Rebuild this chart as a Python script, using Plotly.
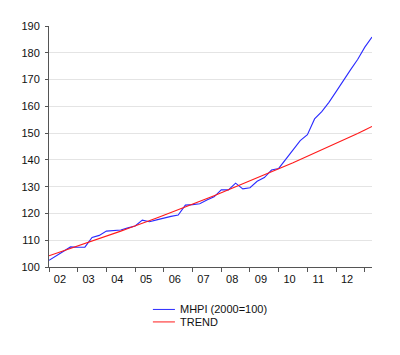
import plotly.graph_objects as go

# Quarterly observations, 2002Q1 .. 2013Q2
quarters = [2002 + i / 4 for i in range(46)]

mhpi = [102.5, 104.2, 106.0, 107.5, 107.4, 107.4, 111.0, 111.8, 113.4, 113.6,
        113.8, 114.6, 115.3, 117.5, 116.9, 117.6, 118.3, 118.9, 119.4, 123.1,
        123.3, 123.6, 125.0, 126.2, 128.8, 128.8, 131.3, 129.2, 129.6, 132.0,
        133.4, 136.2, 136.8, 140.4, 143.8, 147.2, 149.4, 155.3, 158.0, 161.5,
        165.5, 169.8, 173.6, 177.5, 182.1, 185.9]

trend = [104.2, 105.1, 106.0, 106.9, 107.8, 108.7, 109.6, 110.6, 111.5, 112.5,
         113.4, 114.4, 115.3, 116.3, 117.3, 118.3, 119.3, 120.3, 121.3, 122.4,
         123.4, 124.5, 125.5, 126.6, 127.7, 128.8, 129.8, 131.0, 132.1, 133.2,
         134.3, 135.5, 136.6, 137.8, 138.9, 140.1, 141.3, 142.5, 143.7, 144.9,
         146.2, 147.4, 148.7, 149.9, 151.2, 152.5]

year_labels = ["02", "03", "04", "05", "06", "07", "08", "09", "10", "11", "12"]
label_pos = [2002.38 + k for k in range(len(year_labels))]
year_ticks = [2002 + k for k in range(12)]
y_ticks = list(range(100, 191, 10))
y_grid = list(range(110, 181, 10))

series_names = ["MHPI (2000=100)", "TREND"]
colors = ["#2b2bff", "#ff1a1a"]

fig = go.Figure()
fig.add_trace(go.Scatter(x=quarters, y=mhpi, mode="lines", name=series_names[0],
                         line=dict(color=colors[0], width=1.1), showlegend=False))
fig.add_trace(go.Scatter(x=quarters, y=trend, mode="lines", name=series_names[1],
                         line=dict(color=colors[1], width=1.1), showlegend=False))

font = dict(family="Liberation Sans, Arial, sans-serif", size=11, color="#111")

# plot area geometry (figure pixels)
L, T, PW, PH = 41.3, 18.0, 322.4, 241.3

fig.update_layout(
    width=400, height=355,
    margin=dict(l=L, r=400 - L - PW, t=T, b=355 - T - PH, autoexpand=False),
    paper_bgcolor="white", plot_bgcolor="white",
    font=font,
    showlegend=False,
    xaxis=dict(
        range=[2002, 2013.25], showgrid=False, zeroline=False, automargin=False,
        tickmode="array", tickvals=label_pos, ticktext=year_labels, ticks="",
        ticklabelstandoff=2,
        showline=True, linecolor="#555", linewidth=1,
        minor=dict(tickmode="array", tickvals=year_ticks, ticks="outside",
                   ticklen=4, tickcolor="#555", showgrid=False),
    ),
    yaxis=dict(
        range=[100, 190], tickmode="array", tickvals=y_ticks,
        showgrid=False, zeroline=False, automargin=False,
        showline=True, linecolor="#555", linewidth=1,
        ticks="outside", ticklen=3, tickcolor="#555", ticklabelstandoff=3,
        minor=dict(tickmode="array", tickvals=y_grid, ticks="",
                   showgrid=True, gridcolor="#e4e4e4", gridwidth=1),
    ),
)

# manual legend below the plot (page pixel positions -> paper coords)
legend_rows = [309.8, 322.3]
for k in range(2):
    yp = (T + PH - (legend_rows[k] - 8)) / PH
    fig.add_shape(type="line", xref="paper", yref="paper",
                  x0=(153 - 8 - L) / PW, x1=(175 - 8 - L) / PW,
                  y0=yp, y1=yp, line=dict(color=colors[k], width=1))
    fig.add_annotation(xref="paper", yref="paper",
                       x=(178.5 - 8 - L) / PW, y=yp,
                       text=series_names[k], showarrow=False,
                       xanchor="left", yanchor="middle", font=font)

fig.write_html("out.html")
